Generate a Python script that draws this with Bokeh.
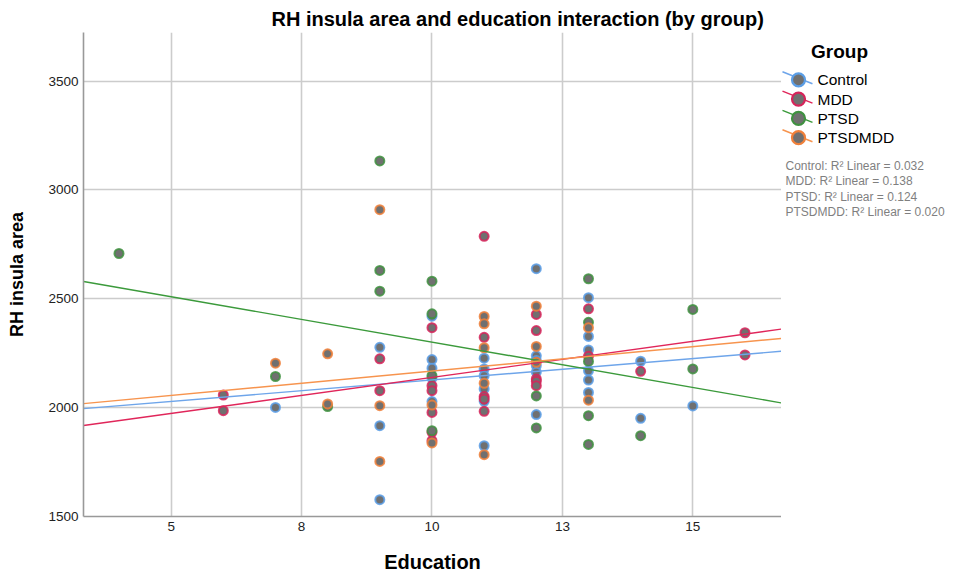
from bokeh.plotting import figure
from bokeh.models import Range1d, FixedTicker
from bokeh.layouts import row
from bokeh.core.properties import value
from bokeh.embed import file_html
from bokeh.resources import INLINE

# ---------------- data ----------------
groups = ["Control", "MDD", "PTSD", "PTSDMDD"]

control_x = [7, 9, 9, 9, 10, 10, 10, 10, 10, 11, 11, 11, 11, 11, 11,
             12, 12, 12, 12, 12, 12, 13, 13, 13, 13, 13, 13, 14, 14, 15]
control_y = [2001, 2277, 1917, 1577, 2420, 2221, 2181, 2135, 2028,
             2227, 2178, 2147, 2086, 2029, 1825,
             2638, 2238, 2216, 2193, 2163, 1968,
             2505, 2327, 2265, 2169, 2127, 2070, 2213, 1951, 2008]

mdd_x = [6, 6, 9, 9, 10, 10, 10, 10, 10, 10, 11, 11, 11, 11, 11,
         12, 12, 12, 12, 12, 13, 13, 14, 16, 16]
mdd_y = [2058, 1986, 2224, 2078, 2367, 2101, 2078, 1978, 1887, 1848,
         2787, 2323, 2051, 2040, 1983, 2428, 2354, 2132, 2121, 2101,
         2454, 2236, 2167, 2344, 2242]

ptsd_x = [4, 7, 8, 9, 9, 9, 10, 10, 10, 10, 12, 12, 13, 13, 13, 13, 13, 14, 15, 15]
ptsd_y = [2708, 2143, 2005, 3133, 2630, 2535, 2581, 2431, 2147, 1894,
          2054, 1907, 2592, 2392, 2212, 1963, 1831, 1871, 2451, 2178]

ptsdmdd_x = [7, 8, 8, 9, 9, 9, 10, 10, 11, 11, 11, 11, 11, 12, 12, 12, 13, 13]
ptsdmdd_y = [2204, 2247, 2017, 2909, 2009, 1753, 2012, 1838,
             2419, 2385, 2275, 2112, 1784, 2466, 2281, 2208, 2367, 2034]

# fitted linear lines (intercept, slope)
fit_intercept = [1930, 1808, 2718, 1944]
fit_slope = [19.7, 33.1, -41.7, 22.4]
r2_values = ["0.032", "0.138", "0.124", "0.020"]

x_ticks = [5, 7.5, 10, 12.5, 15]
x_tick_labels = ["5", "8", "10", "13", "15"]
y_ticks = [1500, 2000, 2500, 3000, 3500]

# ---------------- styles ----------------
ring_colors = ["#5b9ee6", "#d6245a", "#3f9140", "#f0803a"]
line_colors = ["#6ea5ea", "#e0265a", "#3b9a3b", "#f7944e"]
FONT = "Liberation Sans"
X0, X1 = 3.32, 16.70
Y0, Y1 = 1500, 3723
FRAME_W, FRAME_H = 698, 484

p = figure(frame_width=FRAME_W, frame_height=FRAME_H, output_backend="svg",
           toolbar_location=None,
           x_range=Range1d(X0, X1), y_range=Range1d(Y0, Y1),
           min_border_left=83, min_border_right=0,
           min_border_top=32, min_border_bottom=0)
p.outline_line_color = None

p.title.text = "RH insula area and education interaction (by group)"
p.title.text_font = FONT
p.title.text_font_size = "20px"
p.title.text_font_style = "bold"
p.title.text_color = "#000000"
p.title.align = "left"
p.title.offset = 188
p.title.standoff = 5

for ax in (p.xaxis[0], p.yaxis[0]):
    ax.axis_line_color = "#999999"
    ax.axis_line_width = 1.6
    ax.major_tick_line_color = None
    ax.minor_tick_line_color = None
    ax.major_tick_out = 0
    ax.major_tick_in = 0
    ax.major_label_text_font = FONT
    ax.major_label_text_font_size = "13.5px"
    ax.major_label_text_color = "#222222"
    ax.axis_label_text_font = FONT
    ax.axis_label_text_font_style = "bold"
    ax.axis_label_text_color = "#000000"

p.xaxis.axis_label_text_font_size = "20px"
p.yaxis.axis_label_text_font_size = "18px"
p.xaxis.ticker = FixedTicker(ticks=x_ticks)
p.xaxis.major_label_overrides = {t: l for t, l in zip(x_ticks, x_tick_labels)}
p.yaxis.ticker = FixedTicker(ticks=y_ticks)
p.xaxis.axis_label = "Education"
p.yaxis.axis_label = "RH insula area"
p.xaxis.major_label_standoff = 5
p.yaxis.major_label_standoff = 5
p.xaxis.axis_label_standoff = 17
p.yaxis.axis_label_standoff = 18

p.xgrid.ticker = FixedTicker(ticks=x_ticks)
p.ygrid.ticker = FixedTicker(ticks=y_ticks)
for g in (p.xgrid[0], p.ygrid[0]):
    g.grid_line_color = "#cccccc"
    g.grid_line_width = 1.6

xs_all = [control_x, mdd_x, ptsd_x, ptsdmdd_x]
ys_all = [control_y, mdd_y, ptsd_y, ptsdmdd_y]

for i in range(4):
    p.scatter(xs_all[i], ys_all[i], size=9, fill_color="#707070",
              line_color=ring_colors[i], line_width=2, line_alpha=0.85)

for i in range(4):
    lx = [X0, X1]
    ly = [fit_intercept[i] + fit_slope[i] * v for v in lx]
    p.line(lx, ly, line_color=line_colors[i], line_width=1.4)

# ---------------- legend panel ----------------
# a pixel-space figure whose frame lines up with the main plot frame;
# its y coordinates are page pixels measured from the top (frame spans 32..516)
SW = 166
side = figure(width=SW, frame_height=FRAME_H, output_backend="svg", toolbar_location=None,
              x_range=Range1d(0, SW), y_range=Range1d(516, 32),
              x_axis_location=None, y_axis_location=None,
              min_border_left=0, min_border_right=0,
              min_border_top=32, min_border_bottom=0)
side.outline_line_color = None
side.grid.visible = False

row_y = [79.3, 98.6, 117.9, 137.2]
side.segment(x0=[1] * 4, y0=[y - 8 for y in row_y], x1=[31] * 4, y1=[y + 4 for y in row_y],
             line_color=line_colors, line_width=1.5)
side.scatter([17] * 4, row_y, size=13, fill_color="#707070",
             line_color=ring_colors, line_width=2.2)
side.text([36] * 4, row_y, text=groups, text_align="left", text_baseline="middle",
          text_font=value(FONT), text_font_size="15.5px", text_color="#000000")
side.text([58], [50.5], text=["Group"], text_align="center", text_baseline="middle",
          text_font=value(FONT), text_font_size="19px", text_font_style="bold",
          text_color="#000000")
r2_text = [f"{g}: R\u00b2 Linear = {r}" for g, r in zip(groups, r2_values)]
side.text([4] * 4, [165, 180.5, 196, 211.5], text=r2_text,
          text_align="left", text_baseline="middle",
          text_font=value(FONT), text_font_size="12px", text_color="#7f7f7f")

layout = row(p, side)
open("out.html", "w").write(file_html(layout, INLINE))
